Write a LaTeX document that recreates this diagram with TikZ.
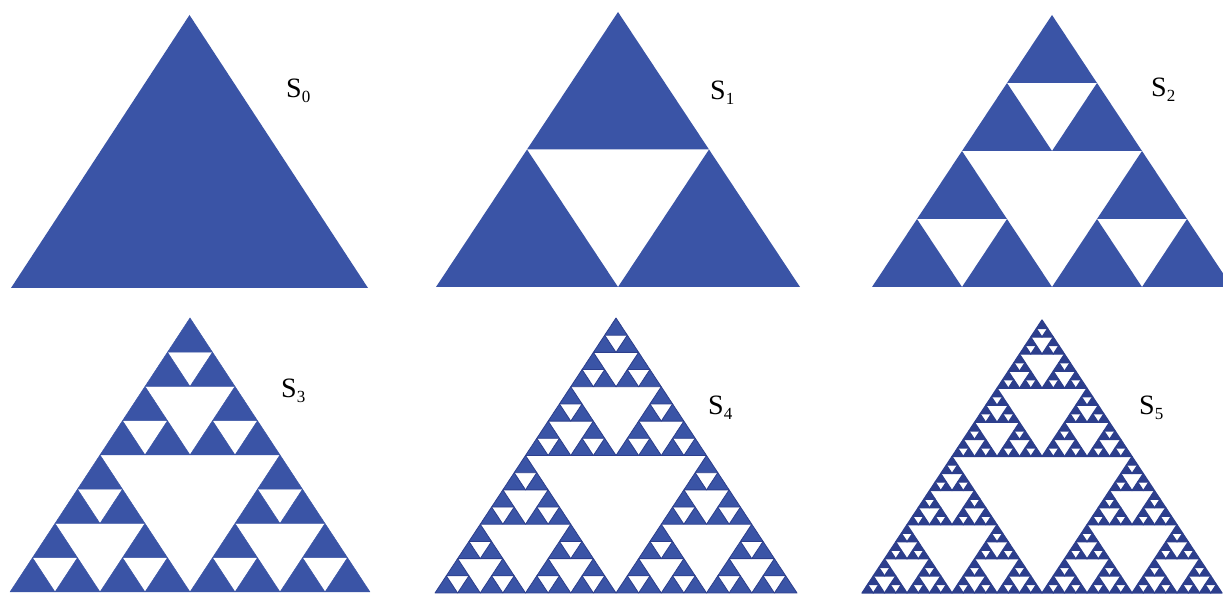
\documentclass[tikz,border=0pt]{standalone}
\usepackage{fontspec}
\setmainfont{Liberation Serif}
\definecolor{sblue}{RGB}{58,84,166}
\definecolor{sdark}{RGB}{44,62,140}
\newcommand\sierp[2]{%
  \ifnum#1=0
    \path[#2] (0,0)--(1,0)--(0.5,1)--cycle;%
  \else
    \begin{scope}[scale=0.5]\expandafter\sierp\expandafter{\the\numexpr#1-1\relax}{#2}\end{scope}%
    \begin{scope}[shift={(0.5,0)},scale=0.5]\expandafter\sierp\expandafter{\the\numexpr#1-1\relax}{#2}\end{scope}%
    \begin{scope}[shift={(0.25,0.5)},scale=0.5]\expandafter\sierp\expandafter{\the\numexpr#1-1\relax}{#2}\end{scope}%
  \fi}
\newcommand\lab[1]{S\raisebox{-0.32ex}{\fontsize{17}{17}\selectfont #1}}
\tikzset{
  tri/.style={fill=sblue},
  trimid/.style={fill=sblue,draw=sblue,line width=0.5pt,line join=round},
  trifine/.style={fill=sblue,draw=sdark,line width=0.8pt,line join=round},
  trifiner/.style={fill=sdark,draw=sdark,line width=1.2pt,line join=round},
  lbl/.style={anchor=base west,inner sep=0pt,font=\fontsize{28}{28}\selectfont}
}
\begin{document}
\begin{tikzpicture}[x=1pt,y=1pt]
\useasboundingbox (0,0) rectangle (1223,594);
\fill[white] (0,0) rectangle (1223,594);
% top row
\begin{scope}[shift={(11,306)},xscale=357,yscale=273]\sierp{0}{tri}\end{scope}
\begin{scope}[shift={(436,307)},xscale=364,yscale=275]\sierp{1}{tri}\end{scope}
\begin{scope}[shift={(872,307)},xscale=360,yscale=272]\sierp{2}{tri}\end{scope}
% bottom row
\begin{scope}[shift={(10,2)},xscale=360,yscale=274]\sierp{3}{trimid}\end{scope}
\begin{scope}[shift={(435,1)},xscale=362,yscale=275]\sierp{4}{trifine}\end{scope}
\begin{scope}[shift={(862,1)},xscale=360,yscale=273]\sierp{5}{trifiner}\end{scope}
% labels
\node[lbl] (l0) at (286,496) {\lab{0}};
\node[lbl] (l1) at (710,494) {\lab{1}};
\node[lbl] (l2) at (1151,497) {\lab{2}};
\node[lbl] (l3) at (281,196) {\lab{3}};
\node[lbl] (l4) at (708,179) {\lab{4}};
\node[lbl] (l5) at (1139,179) {\lab{5}};
\end{tikzpicture}
\end{document}
